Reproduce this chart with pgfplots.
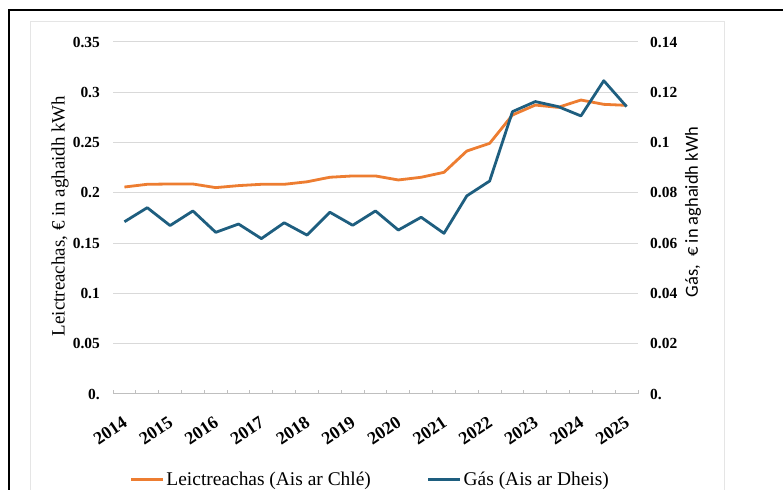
\documentclass[border=0pt]{standalone}
\usepackage{pgfplots}
\pgfplotsset{compat=1.18}
\usepackage{fontspec}
\setmainfont{Liberation Serif}
\newfontfamily\sansf{Carlito}
\definecolor{elec}{RGB}{237,125,49}
\definecolor{gas}{RGB}{30,94,127}
\definecolor{gridc}{RGB}{217,217,217}
\definecolor{axc}{RGB}{191,191,191}
\pgfplotstableread{
i elec gas
0 0.2058 0.0685
1 0.2085 0.0741
2 0.2088 0.0670
3 0.2088 0.0728
4 0.2052 0.0643
5 0.2072 0.0676
6 0.2085 0.0618
7 0.2085 0.0681
8 0.2110 0.0632
9 0.2155 0.0723
10 0.2168 0.0671
11 0.2168 0.0728
12 0.2128 0.0652
13 0.2155 0.0703
14 0.2204 0.0639
15 0.2416 0.0788
16 0.2492 0.0847
17 0.2774 0.1123
18 0.2873 0.1163
19 0.2850 0.1143
20 0.2923 0.1106
21 0.2880 0.1246
22 0.2870 0.1143
}\datatable
\begin{document}
\begin{tikzpicture}[x=1bp,y=1bp]
\useasboundingbox (0,0) rectangle (783,490);
\fill[white] (0,0) rectangle (783,490);
\draw[line width=2bp] (9,-20) -- (9,480) -- (800,480);
\draw[gray!20, line width=0.8bp] (30,-20) rectangle (724,469);
\pgfplotsset{
  common/.style={
    at={(113bp,96bp)}, anchor=south west, scale only axis,
    width=525bp, height=352bp,
    xmin=-0.5, xmax=22.5,
    major tick length=0pt, minor tick length=4bp,
    tick style={draw=axc, line width=1bp},
    yticklabel style={font=\bfseries\fontsize{15.5}{18}\selectfont, inner sep=0pt},
    clip=false,
  }
}
\begin{axis}[common,
  ymin=0, ymax=0.35,
  axis x line*=bottom, axis y line*=left,
  y axis line style={draw=none},
  x axis line style={draw=axc, line width=1bp},
  xtick={0,2,...,22},
  xticklabels={2014,2015,2016,2017,2018,2019,2020,2021,2022,2023,2024,2025},
  minor xtick={-0.5,0.5,...,22.5},
  xticklabel style={font=\bfseries\fontsize{18}{20}\selectfont, rotate=34, anchor=north east, inner sep=0pt, yshift=-16bp, xshift=-14bp},
  ytick={0,0.05,0.1,0.15,0.2,0.25,0.3,0.35},
  yticklabels={0.,0.05,0.1,0.15,0.2,0.25,0.3,0.35},
  yticklabel style={anchor=east, xshift=-13bp},
  ymajorgrids, grid style={draw=gridc, line width=1bp},
]
\addplot[elec, line width=2.8bp, line join=round] table[x=i, y=elec] {\datatable};
\end{axis}
\begin{axis}[common,
  ymin=0, ymax=0.14,
  axis x line=none, axis y line*=right,
  y axis line style={draw=none},
  ytick={0,0.02,0.04,0.06,0.08,0.1,0.12,0.14},
  yticklabels={0.,0.02,0.04,0.06,0.08,0.1,0.12,0.14},
  yticklabel style={anchor=west, xshift=12bp},
  legend style={at={(0.49,-0.244)}, anchor=center, draw=none, fill=none,
    legend columns=2, font=\fontsize{19.5}{22}\selectfont, inner sep=0pt,
    /tikz/every even column/.append style={column sep=54bp},
    nodes={inner xsep=2bp}},
  legend cell align=left,
  legend image code/.code={\draw[#1, line width=2.8bp] (0bp,0bp) -- (32bp,0bp);},
]
\addlegendimage{elec}
\addlegendentry{Leictreachas (Ais ar Chlé)}
\addplot[gas, line width=2.8bp, line join=round] table[x=i, y=gas] {\datatable};
\addlegendentry{Gás (Ais ar Dheis)}
\end{axis}
\node[rotate=90, font=\fontsize{19}{22}\selectfont] at (60,274) {Leictreachas, € in aghaidh kWh};
\node[rotate=90, font=\sansf\fontsize{18.5}{22}\selectfont] at (693,278) {Gás,~ € in aghaidh kWh};
\end{tikzpicture}
\end{document}
